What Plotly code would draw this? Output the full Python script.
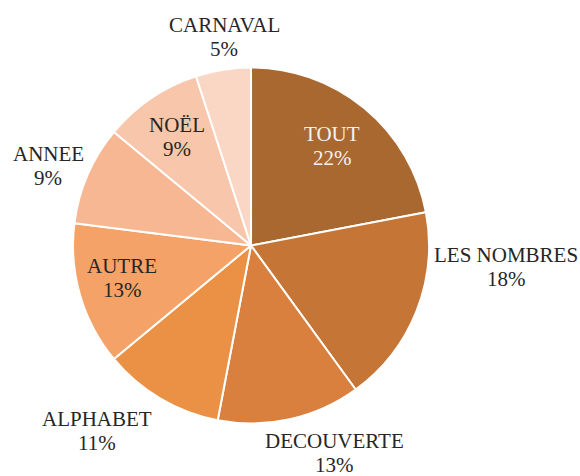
import plotly.graph_objects as go

# Share of each theme, listed clockwise from 12 o'clock
labels = ["TOUT", "LES NOMBRES", "DECOUVERTE", "ALPHABET", "AUTRE", "ANNEE", "NOËL", "CARNAVAL"]
values = [22, 18, 13, 11, 13, 9, 9, 5]

colors = ["#A96830", "#C57536", "#D9803F", "#EA9146", "#F4A267", "#F7B792", "#F8C7AB", "#FAD7C5"]
text_colors = ["#F2F2F2", "#262626", "#262626", "#262626", "#262626", "#262626", "#262626", "#262626"]

# Centre of the name line in pixels (x from left, y from top); the percentage sits one line below
label_px = [(332, 134), (506, 255), (334, 441), (97, 419),
            (122, 266), (48, 154), (177, 125), (224, 25)]
LINE_GAP = 24

W, H = 580, 476

fig = go.Figure(
    go.Pie(
        labels=labels,
        values=values,
        sort=False,
        direction="clockwise",
        rotation=0,
        marker=dict(colors=colors, line=dict(color="#FFFFFF", width=2)),
        textinfo="none",
        showlegend=False,
        hoverinfo="label+percent",
        domain=dict(x=[0.1259, 0.7397], y=[0.1103, 0.8582]),
    )
)

font_family = "Liberation Serif, Times New Roman, serif"
for lab, val, col, (px, py) in zip(labels, values, text_colors, label_px):
    for txt, yy in ((lab, py), (f"{val}%", py + LINE_GAP)):
        fig.add_annotation(
            x=px / W, y=1 - yy / H, xref="paper", yref="paper",
            text=txt,
            showarrow=False, xanchor="center", yanchor="middle", align="center",
            font=dict(family=font_family, size=21, color=col),
        )

fig.update_layout(
    width=W,
    height=H,
    margin=dict(l=0, r=0, t=0, b=0),
    paper_bgcolor="#FFFFFF",
    plot_bgcolor="#FFFFFF",
)

fig.write_html("out.html")
